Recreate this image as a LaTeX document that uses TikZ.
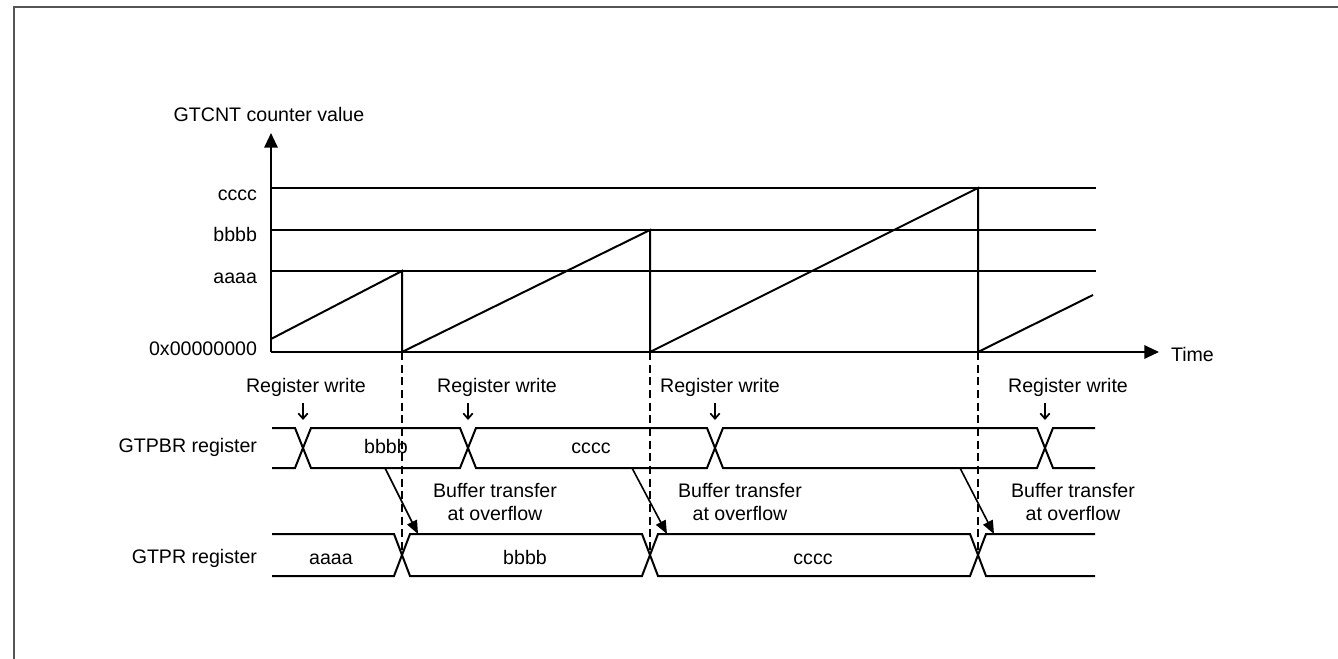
\documentclass[tikz,border=0pt]{standalone}
\usepackage{fontspec}
\setmainfont{Liberation Sans}
\usetikzlibrary{arrows.meta}
\definecolor{framegray}{RGB}{85,85,85}
\begin{document}
\begin{tikzpicture}[x=0.75pt,y=-0.75pt, line width=1.5pt, line join=miter,
  lbl/.style={font=\fontsize{14.7}{17.25}\selectfont, inner sep=0pt, text=black},
  lvl/.style={line width=1.5pt},
  bus/.style={line width=1.5pt},
  guide/.style={line width=1.2pt, dash pattern=on 6pt off 3.5pt},
  axisarrow/.style={-{Triangle[length=11pt,width=10pt]}},
  writearrow/.style={line width=1.3pt, -{Straight Barb[length=4pt,width=7pt]}},
  xferarrow/.style={line width=1.2pt, -{Triangle[length=10pt,width=8pt]}}]
\useasboundingbox (0,0) rectangle (1338,659);
% frame
\draw[framegray, line width=1.6pt] (14,662) -- (14,7) -- (1341,7);

% axes
\coordinate (O) at (271,352);
\coordinate (Ytop) at (271,133);
\coordinate (Xend) at (1159,352);
\draw[axisarrow] (O) -- (Ytop);
\draw[axisarrow] (O) -- (Xend);
\node[lbl, anchor=base] (ytitle) at (269,122) {GTCNT counter value};
\node[lbl, anchor=base west] (xtitle) at (1170,361) {Time};

% level lines
\coordinate (Lc) at (271,188); \coordinate (Lce) at (1096,188);
\coordinate (Lb) at (271,230); \coordinate (Lbe) at (1096,230);
\coordinate (La) at (271,271); \coordinate (Lae) at (1096,271);
\draw[lvl] (Lc) -- (Lce);
\draw[lvl] (Lb) -- (Lbe);
\draw[lvl] (La) -- (Lae);
\node[lbl, anchor=base east] (tc) at (258,201) {cccc};
\node[lbl, anchor=base east] (tb) at (258,242) {bbbb};
\node[lbl, anchor=base east] (ta) at (258,284) {aaaa};
\node[lbl, anchor=base east] (t0) at (258,355) {0x00000000};

% sawtooth
\draw (271,339) -- (402,271) -- (402,352) -- (650,230) -- (650,352) -- (978,188) -- (978,352) -- (1093,295);

% overflow guides
\coordinate (g1) at (402,352); \coordinate (g1e) at (402,555);
\coordinate (g2) at (650,352); \coordinate (g2e) at (650,555);
\coordinate (g3) at (978,352); \coordinate (g3e) at (978,555);
\draw[guide] (g1) -- (g1e);
\draw[guide] (g2) -- (g2e);
\draw[guide] (g3) -- (g3e);

% GTPBR bus
\draw[bus] (272,428) -- (295,428) -- (311,468) -- (460,468) -- (476,428) -- (707,428) -- (723,468) -- (1037,468) -- (1053,428) -- (1095,428);
\draw[bus] (272,468) -- (295,468) -- (311,428) -- (460,428) -- (476,468) -- (707,468) -- (723,428) -- (1037,428) -- (1053,468) -- (1095,468);
\node[lbl, anchor=base east] (gtpbr) at (258,452) {GTPBR register};
\node[lbl, anchor=base] (pb1) at (386,453) {bbbb};
\node[lbl, anchor=base] (pb2) at (591,453) {cccc};

% GTPR bus
\draw[bus] (272,534) -- (394,534) -- (410,576) -- (642,576) -- (658,534) -- (970,534) -- (986,576) -- (1095,576);
\draw[bus] (272,576) -- (394,576) -- (410,534) -- (642,534) -- (658,576) -- (970,576) -- (986,534) -- (1095,534);
\node[lbl, anchor=base east] (gtpr) at (258,563) {GTPR register};
\node[lbl, anchor=base] (p1) at (331,564) {aaaa};
\node[lbl, anchor=base] (p2) at (525,564) {bbbb};
\node[lbl, anchor=base] (p3) at (813,564) {cccc};

% register writes
\node[lbl, anchor=base] (rw1) at (306,392) {Register write};
\node[lbl, anchor=base] (rw2) at (497,392) {Register write};
\node[lbl, anchor=base] (rw3) at (720,392) {Register write};
\node[lbl, anchor=base] (rw4) at (1068,392) {Register write};
\coordinate (w1) at (303,403); \coordinate (w1e) at (303,420);
\coordinate (w2) at (468,403); \coordinate (w2e) at (468,420);
\coordinate (w3) at (715,403); \coordinate (w3e) at (715,420);
\coordinate (w4) at (1045,403); \coordinate (w4e) at (1045,420);
\draw[writearrow] (w1) -- (w1e);
\draw[writearrow] (w2) -- (w2e);
\draw[writearrow] (w3) -- (w3e);
\draw[writearrow] (w4) -- (w4e);

% buffer transfers
\node[lbl, anchor=base, align=center] (bt1) at (495,520) {Buffer transfer\\at overflow};
\node[lbl, anchor=base, align=center] (bt2) at (740,520) {Buffer transfer\\at overflow};
\node[lbl, anchor=base, align=center] (bt3) at (1073,520) {Buffer transfer\\at overflow};
\coordinate (x1) at (385,468); \coordinate (x1e) at (418,534);
\coordinate (x2) at (632,468); \coordinate (x2e) at (667,534);
\coordinate (x3) at (960,468); \coordinate (x3e) at (994,534);
\draw[xferarrow] (x1) -- (x1e);
\draw[xferarrow] (x2) -- (x2e);
\draw[xferarrow] (x3) -- (x3e);
\end{tikzpicture}
\end{document}
